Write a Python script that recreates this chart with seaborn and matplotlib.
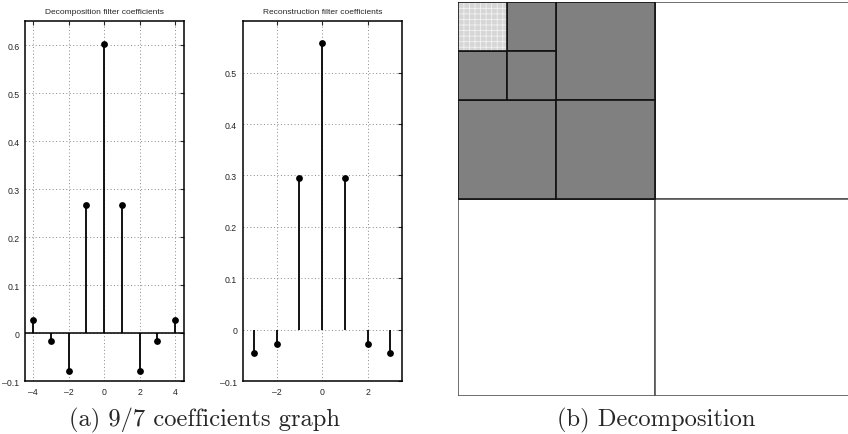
import numpy as np
import pandas as pd
import matplotlib
matplotlib.use("Agg")
import matplotlib.pyplot as plt
import seaborn as sns
from matplotlib.patches import Rectangle

# CDF 9/7 filter coefficients
dec_n = [-4, -3, -2, -1, 0, 1, 2, 3, 4]
dec_h = [0.0267, -0.0169, -0.0782, 0.2669, 0.6029, 0.2669, -0.0782, -0.0169, 0.0267]
rec_n = [-3, -2, -1, 0, 1, 2, 3]
rec_h = [-0.0456, -0.0288, 0.2956, 0.5575, 0.2956, -0.0288, -0.0456]

dec_yticks = [-0.1, 0, 0.1, 0.2, 0.3, 0.4, 0.5, 0.6]
rec_yticks = [-0.1, 0, 0.1, 0.2, 0.3, 0.4, 0.5]
dec_xticks = [-4, -2, 0, 2, 4]
rec_xticks = [-2, 0, 2]

# wavelet decomposition levels: (level, subband)
levels = [1, 2, 3]
subbands = ["HL", "LH", "HH"]

sns.set_style("white")
plt.rcParams["font.family"] = ["Liberation Sans", "DejaVu Sans"]
plt.rcParams["hatch.linewidth"] = 0.6

fig = plt.figure(figsize=(8.48, 4.35), dpi=100)


def stem_panel(ax, n, h, xlim, ylim, xticks, yticks, title, baseline):
    df = pd.DataFrame({"n": n, "h": h})
    ax.vlines(df["n"], 0, df["h"], color="black", lw=1.3, zorder=3)
    sns.scatterplot(data=df, x="n", y="h", color="black", s=24, edgecolor="black",
                    linewidth=0, ax=ax, zorder=4)
    if baseline:
        ax.axhline(0, color="black", lw=1.1, zorder=2)
    ax.set_xlim(*xlim)
    ax.set_ylim(*ylim)
    ax.set_xticks(xticks)
    ax.set_yticks(yticks)
    ax.set_xticklabels([f"{t:g}".replace("-", "\u2013") for t in xticks])
    ax.set_yticklabels([f"{t:g}".replace("-", "\u2013") for t in yticks])
    ax.tick_params(direction="in", length=3, width=0.8, labelsize=6.3, top=True, right=True, pad=4)
    ax.grid(True, color="#888888", linestyle=(0, (1, 2.5)), lw=0.7)
    ax.set_xlabel("")
    ax.set_ylabel("")
    ax.set_title(title, fontsize=6, pad=6)
    for s in ax.spines.values():
        s.set_color("black")
        s.set_linewidth(1.1)


ax1 = fig.add_axes([0.0295, 0.1218, 0.1875, 0.827])
stem_panel(ax1, dec_n, dec_h, (-4.45, 4.5), (-0.1, 0.65), dec_xticks, dec_yticks,
           "Decomposition filter coefficients", True)

ax2 = fig.add_axes([0.2862, 0.1218, 0.1875, 0.827])
stem_panel(ax2, rec_n, rec_h, (-3.5, 3.5), (-0.1, 0.6), rec_xticks, rec_yticks,
           "Reconstruction filter coefficients", False)

# decomposition layout
ax3 = fig.add_axes([0.540, 0.0874, 0.4646, 0.9057])
ax3.set_xlim(0, 1)
ax3.set_ylim(1, 0)
ax3.axis("off")

ax3.add_patch(Rectangle((0, 0), 1, 1, facecolor="white", edgecolor="#cccccc", lw=1.0, zorder=1))
for lev in levels:
    size = 0.5 ** lev
    offsets = {"HL": (size, 0), "LH": (0, size), "HH": (size, size)}
    for sb in subbands:
        x0, y0 = offsets[sb]
        if lev == 1:
            ax3.add_patch(Rectangle((x0, y0), size, size, facecolor="white",
                                    edgecolor="#555555", lw=1.2, zorder=2))
        else:
            ax3.add_patch(Rectangle((x0, y0), size, size, facecolor="#808080",
                                    edgecolor="#111111", lw=1.2, zorder=3))
    if lev == 1:
        ax3.add_patch(Rectangle((0, 0), size, size, facecolor="#808080",
                                edgecolor="#444444", lw=1.2, zorder=2))
last = 0.5 ** levels[-1]
ax3.add_patch(Rectangle((0, 0), last, last, facecolor="#d6d6d6", edgecolor="#f2f2f2",
                        hatch="+++", lw=0, zorder=4))
ax3.add_patch(Rectangle((0, 0), last, last, facecolor="none", edgecolor="#111111",
                        lw=1.2, zorder=5))

cap = dict(family="cmr10", fontsize=17.7, ha="center", va="center")
fig.text(0.2417, 0.0345, "(a) 9/7 coefficients graph", **cap)
fig.text(0.7736, 0.0345, "(b) Decomposition", **cap)

fig.savefig("out.png", dpi=100)
